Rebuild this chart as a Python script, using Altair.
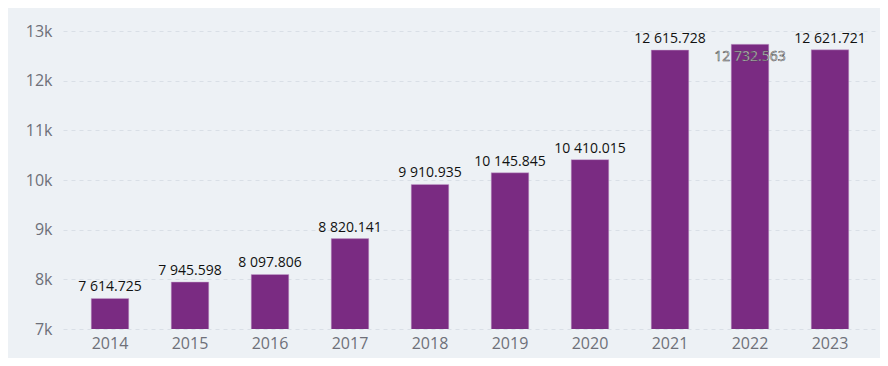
import altair as alt
import pandas as pd

years = ["2014", "2015", "2016", "2017", "2018", "2019", "2020", "2021", "2022", "2023"]
values = [7614.725, 7945.598, 8097.806, 8820.141, 9910.935, 10145.845, 10410.015, 12615.728, 12732.563, 12621.721]
labels = ["7 614.725", "7 945.598", "8 097.806", "8 820.141", "9 910.935", "10 145.845",
          "10 410.015", "12 615.728", "12 732.563", "12 621.721"]

df = pd.DataFrame({"year": years, "value": values, "label": labels})
vmax = max(values)
df["top"] = df["value"] == vmax

BG = "#edf1f5"
BAR = "#7a2b82"

x = alt.X("year:N", sort=years,
          scale=alt.Scale(paddingInner=0.53, paddingOuter=0.3525),
          axis=alt.Axis(title=None, labelAngle=0, domain=False, ticks=False, grid=False,
                        labelFontSize=16, labelColor="#6e7079", labelPadding=6,
                        labelFont="Open Sans"))
y = alt.Y("value:Q", scale=alt.Scale(domain=[7000, 13000], nice=False, zero=False),
          axis=alt.Axis(title=None, values=[7000, 8000, 9000, 10000, 11000, 12000, 13000],
                        format="~s", domain=False, ticks=False, labelFontSize=16,
                        labelColor="#6e7079", labelPadding=11, labelFont="Open Sans",
                        gridColor="#d9dfe6", gridDash=[4, 4], gridWidth=1))

bars = alt.Chart(df).mark_bar(color=BAR, stroke="#c9a8d0", strokeWidth=0.5, clip=True).encode(x=x, y=y)

above = alt.Chart(df).transform_filter("!datum.top").mark_text(
    baseline="bottom", dy=-4, fontSize=14, color="#111111", font="Open Sans"
).encode(x=x, y=y, text="label:N")

top_df = alt.Chart(df).transform_filter("datum.top")
inner = top_df.mark_text(baseline="middle", dy=13, fontSize=14, color="#f2f2f2",
                         stroke="#444444", strokeWidth=0.5, font="Open Sans").encode(x=x, y=y, text="label:N")

chart = alt.layer(bars, above, inner).properties(
    width=814, height=298,
    autosize=alt.AutoSizeParams(type="none"),
    padding={"left": 55, "top": 23, "right": 3, "bottom": 29},
    background=BG,
).configure_view(stroke=None)

chart.save("out.html", embed_options={"renderer": "svg", "actions": False})
